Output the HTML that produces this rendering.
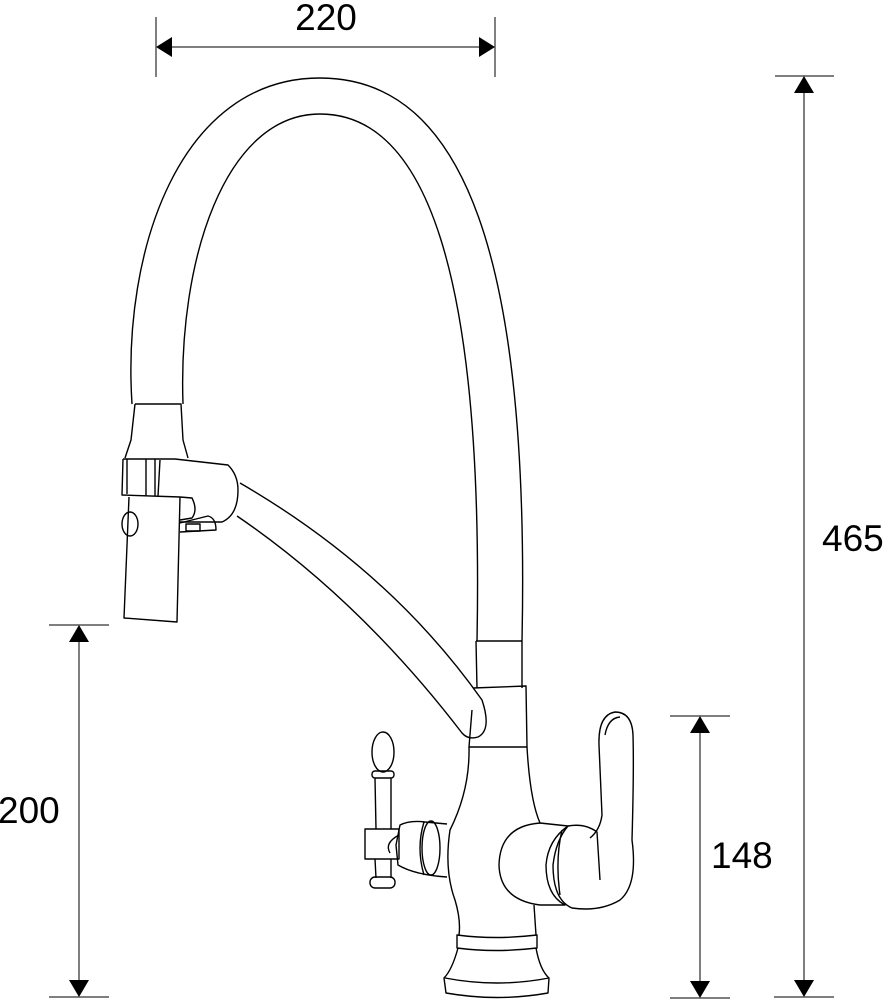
<!DOCTYPE html>
<html><head><style>
html,body{margin:0;padding:0;background:#fff;}
svg{display:block;}
text{font-family:"Liberation Sans",Arial,sans-serif;font-size:37px;fill:#000;}
</style></head><body>
<svg width="887" height="1000" viewBox="0 0 887 1000" xmlns="http://www.w3.org/2000/svg">
<g stroke="#555" stroke-width="1.5" fill="none">
  <line x1="156" y1="17" x2="156" y2="77"/>
  <line x1="495" y1="17" x2="495" y2="77"/>
  <line x1="170" y1="47" x2="482" y2="47"/>
  <line x1="775" y1="76" x2="834" y2="76"/>
  <line x1="774" y1="997" x2="834" y2="997"/>
  <line x1="804" y1="90" x2="804" y2="985"/>
  <line x1="49" y1="625" x2="109" y2="625"/>
  <line x1="49" y1="997" x2="109" y2="997"/>
  <line x1="79" y1="638" x2="79" y2="985"/>
  <line x1="670" y1="716" x2="730" y2="716"/>
  <line x1="670" y1="998" x2="730" y2="998"/>
  <line x1="700" y1="730" x2="700" y2="985"/>
</g>
<g fill="#000">
  <polygon points="156,47 172,37 172,57"/>
  <polygon points="495,47 479,37 479,57"/>
  <polygon points="804,76 794,93 814,93"/>
  <polygon points="804,997 794,980 814,980"/>
  <polygon points="79,625 69,642 89,642"/>
  <polygon points="79,997 69,980 89,980"/>
  <polygon points="700,716 690,733 710,733"/>
  <polygon points="700,998 690,981 710,981"/>
</g>
<text x="326" y="30" text-anchor="middle">220</text>
<text x="822" y="551">465</text>
<text x="-2" y="823">200</text>
<text x="711" y="868">148</text>

<g stroke="#000" stroke-width="1.4" fill="none" stroke-linejoin="round">
  <path d="M132,404 C122,250 180,78 320,78 C465,78 530,260 522,641"/>
  <path d="M183,404 C178,260 225,114 320,114 C425,114 484,270 477,641"/>
  <path d="M135,404 L181,404 L183,440 L188,458 M135,404 L131,440 L125,458"/>
  <path d="M123,459 L175,459 L228,465 Q238,475 238,490 Q238,515 222,522 L180,522"/>
  <path d="M123,459 L122,495 L180,497"/>
  <line x1="127" y1="459" x2="127" y2="494"/>
  <line x1="146" y1="459" x2="146" y2="496"/>
  <line x1="155" y1="459" x2="155" y2="496"/>
  <line x1="160" y1="460" x2="158" y2="496"/>
  <path d="M180,497 L192,498 Q198,510 192,518 L180,520"/>
  <path d="M180,523 L208,516 Q216,518 216,530 L180,532"/>
  <rect x="186" y="524" width="14" height="7"/>
  <path d="M129,497 L124,618 L177,622 L180,497"/>
  <ellipse cx="130" cy="524" rx="8" ry="12"/>
  <path d="M240,483 Q390,570 482,700 Q492,730 478,737 Q468,740 462,733 Q360,600 237,516"/>
  <path d="M476,641 L477,688 M522,641 L522,688 M476,641 L522,641"/>
  <path d="M473,688 L526,686 L527,747 L469,747 L472,710"/>
  <path d="M469,747 Q470,790 450,830 Q444,870 455,900 Q461,920 459,935"/>
  <path d="M527,747 Q530,800 540,823"/>
  <path d="M534,905 Q535,920 536,935"/>
  <path d="M457,935 Q495,940 537,935 L537,948 Q495,953 457,948 Z"/>
  <path d="M458,948 Q452,970 444,978 L446,993 Q497,1002 548,993 L549,978 Q540,970 536,948"/>
  <path d="M445,978 Q497,988 549,978"/>
  <path d="M540,823 L568,826 Q548,840 546,865 Q546,895 565,905 L540,905 Q500,900 499,865 Q500,826 540,823"/>
  <path d="M568,826 Q585,823 597,832 L600,880"/>
  <path d="M568,826 Q556,840 553,865 Q553,900 572,908 Q600,912 620,900 Q638,885 632,840 Q634,770 633,735 Q632,712 615,712 Q598,715 599,745 L602,815 Q600,830 590,838"/>
  <path d="M605,735 Q608,718 620,717"/>
  <path d="M562,830 Q555,860 560,895"/>
  <path d="M447,824 L425,822 Q410,820 400,825 L396,845 L398,865 Q415,875 447,877"/>
  <ellipse cx="431" cy="848" rx="9" ry="27"/>
  <path d="M424,822 Q416,848 424,875"/>
  <ellipse cx="383" cy="752" rx="11" ry="20"/>
  <rect x="372" y="771" width="22" height="7" rx="3"/>
  <line x1="375" y1="778" x2="376" y2="829"/>
  <line x1="391" y1="778" x2="391" y2="829"/>
  <rect x="365" y="829" width="34" height="30"/>
  <path d="M399,835 Q384,843 390,853"/>
  <line x1="375" y1="859" x2="376" y2="878"/>
  <line x1="391" y1="859" x2="391" y2="878"/>
  <rect x="370" y="877" width="25" height="11" rx="5"/>
</g>
</svg>
</body></html>
